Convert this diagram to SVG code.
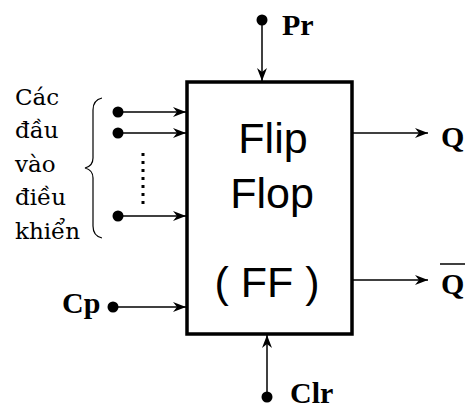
<svg xmlns="http://www.w3.org/2000/svg" width="465" height="408" viewBox="0 0 465 408">
<style>
.wire{stroke:#000;stroke-width:1.5;fill:none}
.lbl{font-family:"Liberation Serif",serif;font-weight:bold;font-size:30px;fill:#000}
.side{font-family:"DejaVu Serif","Liberation Serif",serif;font-size:23px;fill:#000}
.ff{font-family:"Liberation Sans",Arial,sans-serif;font-size:43px;fill:#000;text-anchor:middle}
</style>
<defs>
<marker id="arr" markerUnits="userSpaceOnUse" markerWidth="16" markerHeight="12" refX="14" refY="6" orient="auto">
<path d="M14,6 L1,1 L5,6 L1,11 Z" fill="#000"/>
</marker>
</defs>
<rect width="465" height="408" fill="#fff"/>
<g id="ff-box">
<rect x="187" y="82" width="165" height="252" fill="#fff" stroke="#000" stroke-width="3.5"/>
<text class="ff" x="273" y="153">Flip</text>
<text class="ff" x="272" y="208">Flop</text>
<text class="ff" x="267" y="297">( FF )</text>
</g>
<g id="connectors">
<line class="wire" x1="118" y1="112" x2="186" y2="112" marker-end="url(#arr)"/>
<line class="wire" x1="118" y1="133" x2="186" y2="133" marker-end="url(#arr)"/>
<line class="wire" x1="118" y1="216" x2="186" y2="216" marker-end="url(#arr)"/>
<line class="wire" x1="113" y1="307" x2="186" y2="307" marker-end="url(#arr)"/>
<line class="wire" x1="262" y1="20" x2="262" y2="81" marker-end="url(#arr)"/>
<line class="wire" x1="267" y1="397" x2="267" y2="335" marker-end="url(#arr)"/>
<line class="wire" x1="352" y1="133" x2="428" y2="133" marker-end="url(#arr)"/>
<line class="wire" x1="352" y1="280" x2="428" y2="280" marker-end="url(#arr)"/>
<line x1="143" y1="153" x2="143" y2="206" stroke="#000" stroke-width="3" stroke-dasharray="3 5"/>
</g>
<g id="dots" fill="#000">
<circle cx="118" cy="112" r="5.5"/>
<circle cx="118" cy="133" r="5.5"/>
<circle cx="118" cy="216" r="5.5"/>
<circle cx="113" cy="307" r="5.5"/>
<circle cx="262" cy="20" r="5.5"/>
<circle cx="267" cy="397" r="5.5"/>
</g>
<g id="control-inputs">
<path d="M102,98 Q93,100 93,110 L93,158 Q93,166 85,168 Q93,170 93,178 L93,226 Q93,236 102,238" fill="none" stroke="#000" stroke-width="1.2"/>
<text class="side" x="15" y="105">Các</text>
<text class="side" x="15" y="138">đầu</text>
<text class="side" x="15" y="172">vào</text>
<text class="side" x="15" y="205">điều</text>
<text class="side" x="15" y="239">khiển</text>
</g>
<g id="pr"><text class="lbl" x="282" y="35">Pr</text></g>
<g id="clr"><text class="lbl" x="290" y="403">Clr</text></g>
<g id="cp"><text class="lbl" x="62" y="313">Cp</text></g>
<g id="q"><text class="lbl" x="441" y="147">Q</text></g>
<g id="qbar"><text class="lbl" x="441" y="294">Q</text><line x1="440" y1="264" x2="465" y2="264" stroke="#000" stroke-width="1.5"/></g>
</svg>
